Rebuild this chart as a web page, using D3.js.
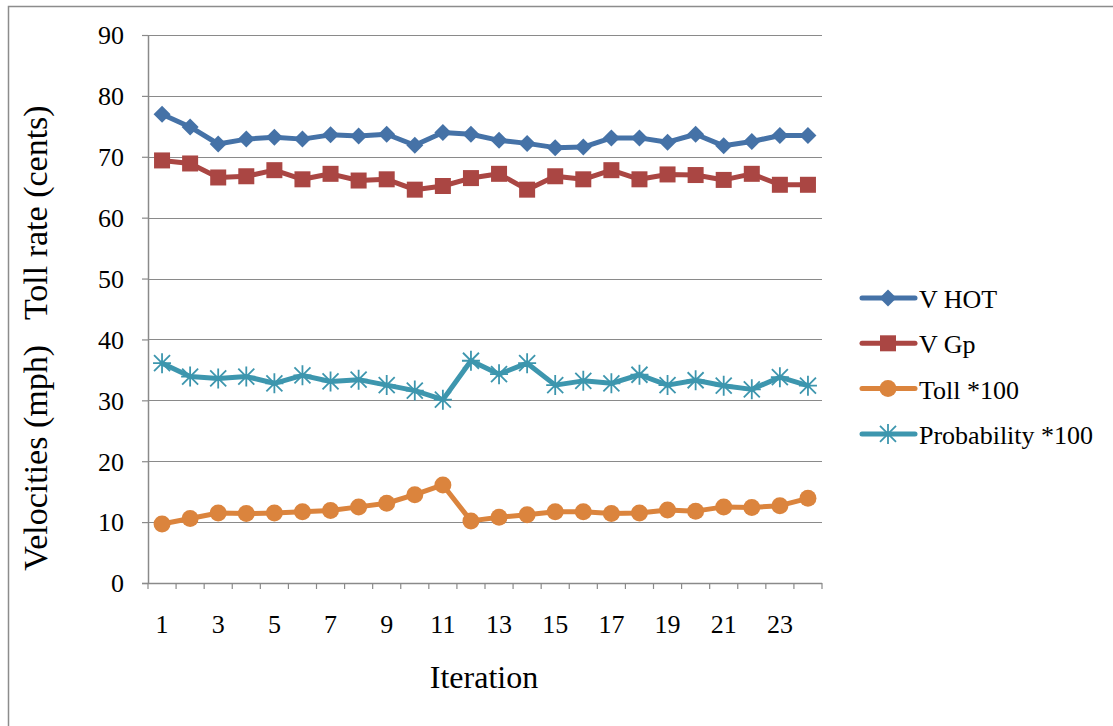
<!DOCTYPE html>
<html>
<head>
<meta charset="utf-8">
<script src="https://cdn.jsdelivr.net/npm/d3@7"></script>
<style>
  body { margin: 0; background: #fff; }
</style>
</head>
<body>
<div id="chart"></div>
<script>
const iterations = d3.range(1, 25)
const yTicks = [0, 10, 20, 30, 40, 50, 60, 70, 80, 90]
const xTickLabels = [1, 3, 5, 7, 9, 11, 13, 15, 17, 19, 21, 23]

const vHot = [77.0, 74.9, 72.1, 72.9, 73.2, 72.9, 73.6, 73.4, 73.7, 71.9, 74.0, 73.7,
  72.7, 72.2, 71.5, 71.6, 73.1, 73.1, 72.4, 73.7, 71.8, 72.5, 73.5, 73.5]
const vGp = [69.4, 68.9, 66.6, 66.8, 67.8, 66.3, 67.2, 66.1, 66.3, 64.6, 65.2, 66.5,
  67.2, 64.6, 66.8, 66.3, 67.8, 66.3, 67.1, 67.0, 66.2, 67.2, 65.4, 65.4]
const toll = [9.7, 10.6, 11.5, 11.4, 11.5, 11.7, 11.9, 12.5, 13.1, 14.5, 16.1, 10.2,
  10.8, 11.2, 11.7, 11.7, 11.4, 11.5, 12.0, 11.8, 12.5, 12.4, 12.7, 13.9]
const probability = [36.1, 33.9, 33.6, 33.9, 32.8, 34.1, 33.1, 33.4, 32.5, 31.6, 30.1, 36.5,
  34.3, 36.1, 32.5, 33.2, 32.8, 34.2, 32.5, 33.3, 32.4, 31.8, 33.8, 32.4]

const series = [
  { name: 'V HOT', values: vHot, color: '#4572A7', marker: 'diamond' },
  { name: 'V Gp', values: vGp, color: '#AA4643', marker: 'square' },
  { name: 'Toll *100', values: toll, color: '#DB843D', marker: 'circle' },
  { name: 'Probability *100', values: probability, color: '#3D96AE', marker: 'star' }
]

const FONT = "'Liberation Serif', 'Times New Roman', Times, serif"

const width = 1113
const height = 726
const margin = { top: 35, left: 148, right: 291, bottom: 143 }
const innerWidth = width - margin.left - margin.right
const innerHeight = height - margin.top - margin.bottom

const svg = d3.select('#chart').append('svg')
  .attr('width', width)
  .attr('height', height)
  .style('font-family', FONT)

// outer frame
svg.append('rect')
  .attr('x', 8.5).attr('y', 6.5)
  .attr('width', width + 20).attr('height', height + 20)
  .attr('fill', 'none')
  .attr('stroke', '#8c8c8c')
  .attr('stroke-width', 1.5)

const g = svg.append('g')
  .attr('transform', `translate(${margin.left},${margin.top})`)

const x = d3.scaleBand()
  .domain(iterations)
  .range([0, innerWidth])

const y = d3.scaleLinear()
  .domain([0, 90])
  .range([innerHeight, 0])

const xc = d => x(d) + x.bandwidth() / 2

// gridlines
g.selectAll('.grid')
  .data(yTicks.filter(d => d > 0))
  .join('line')
  .attr('class', 'grid')
  .attr('x1', 0).attr('x2', innerWidth)
  .attr('y1', d => Math.round(y(d)) + 0.5)
  .attr('y2', d => Math.round(y(d)) + 0.5)
  .attr('stroke', '#8a8a8a')
  .attr('stroke-width', 1.2)

// y axis
const yAxis = g.append('g')
  .call(d3.axisLeft(y).tickValues(yTicks).tickSize(6).tickPadding(18))
yAxis.attr('font-family', null).attr('font-size', null)
yAxis.select('.domain').attr('stroke', '#8a8a8a').attr('stroke-width', 1.5).attr('d', `M0.5,0V${innerHeight}`)
yAxis.selectAll('.tick line').attr('stroke', '#8a8a8a').attr('stroke-width', 1.2)
yAxis.selectAll('.tick text')
  .style('font-family', FONT)
  .style('font-size', '26px')
  .attr('dy', '0.34em')
  .attr('fill', '#000')

// x axis: ticks at category boundaries
const xAxis = g.append('g').attr('transform', `translate(0,${innerHeight})`)
xAxis.append('line')
  .attr('x1', -6).attr('x2', innerWidth)
  .attr('y1', 0.5).attr('y2', 0.5)
  .attr('stroke', '#8a8a8a').attr('stroke-width', 1.5)
xAxis.selectAll('.xtick')
  .data(iterations.concat([25]))
  .join('line')
  .attr('class', 'xtick')
  .attr('x1', d => d === 25 ? innerWidth : x(d))
  .attr('x2', d => d === 25 ? innerWidth : x(d))
  .attr('y1', 0).attr('y2', 6)
  .attr('stroke', '#8a8a8a').attr('stroke-width', 1.2)
xAxis.selectAll('.xlabel')
  .data(xTickLabels)
  .join('text')
  .attr('class', 'xlabel')
  .attr('x', d => xc(d))
  .attr('y', 50)
  .attr('text-anchor', 'middle')
  .style('font-family', FONT)
  .style('font-size', '26px')
  .text(d => d)

// axis titles
svg.append('text')
  .attr('transform', 'translate(47,338) rotate(-90)')
  .attr('text-anchor', 'middle')
  .style('font-family', FONT)
  .style('font-size', '34px')
  .style('white-space', 'pre')
  .text('Velocities (mph)   Toll rate (cents)')

svg.append('text')
  .attr('x', 484).attr('y', 688)
  .attr('text-anchor', 'middle')
  .style('font-family', FONT)
  .style('font-size', '32px')
  .text('Iteration')

function drawMarker (sel, type, color) {
  if (type === 'diamond') {
    sel.append('path').attr('d', 'M0,-8.5L8.5,0L0,8.5L-8.5,0Z').attr('fill', color)
  } else if (type === 'square') {
    sel.append('rect').attr('x', -8).attr('y', -8).attr('width', 16).attr('height', 16).attr('fill', color)
  } else if (type === 'circle') {
    sel.append('circle').attr('r', 8.5).attr('fill', color)
  } else {
    sel.append('path')
      .attr('d', 'M-8,-8L8,8M-8,8L8,-8M0,-10V10M-9,0H9')
      .attr('stroke', color).attr('stroke-width', 1.8).attr('fill', 'none')
  }
}

const line = d3.line()
  .x((d, i) => xc(iterations[i]))
  .y(d => y(d))

series.forEach(s => {
  g.append('path')
    .datum(s.values)
    .attr('d', line)
    .attr('fill', 'none')
    .attr('stroke', s.color)
    .attr('stroke-width', 5)
    .attr('stroke-linejoin', 'round')
    .attr('stroke-linecap', 'round')

  g.selectAll(null)
    .data(s.values)
    .join('g')
    .attr('transform', (d, i) => `translate(${xc(iterations[i])},${y(d)})`)
    .each(function () { drawMarker(d3.select(this), s.marker, s.color) })
})

// legend
const legend = svg.append('g').attr('transform', 'translate(860,298)')
const rows = legend.selectAll('g')
  .data(series)
  .join('g')
  .attr('transform', (d, i) => `translate(0,${i * 45.3})`)
rows.append('line')
  .attr('x1', 2).attr('x2', 55)
  .attr('y1', 0).attr('y2', 0)
  .attr('stroke', d => d.color)
  .attr('stroke-width', 5)
  .attr('stroke-linecap', 'round')
rows.each(function (d) {
  drawMarker(d3.select(this).append('g').attr('transform', 'translate(28,0)'), d.marker, d.color)
})
rows.append('text')
  .attr('x', 59).attr('y', 10)
  .style('font-family', FONT)
  .style('font-size', '26px')
  .text(d => d.name)
</script>
</body>
</html>
